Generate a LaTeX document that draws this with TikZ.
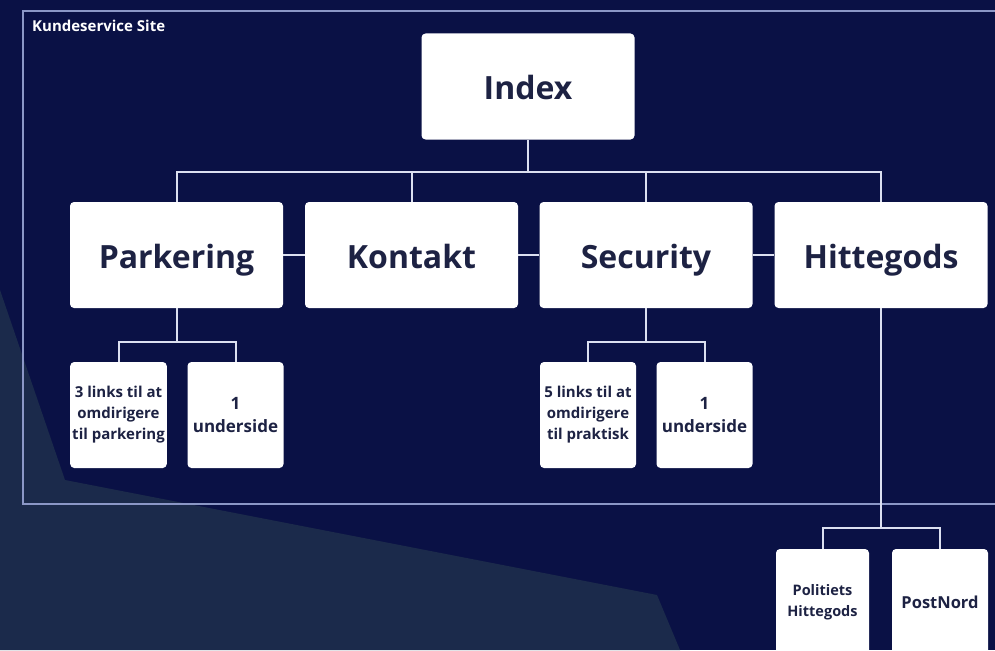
\documentclass[tikz,border=0pt]{standalone}
\usepackage{fontspec}
\setmainfont{Open Sans}
\definecolor{navybg}{HTML}{0A1145}
\definecolor{navylight}{HTML}{1B2A4B}
\definecolor{framecol}{HTML}{8B97C6}
\definecolor{linkcol}{HTML}{DCE0F0}
\definecolor{boxtext}{HTML}{1D2243}

\begin{document}
\begin{tikzpicture}[x=1pt, y=-1pt,
    page/.style={rectangle, rounded corners=4pt, fill=white, text=boxtext,
        align=center, inner sep=2pt, font=\bfseries\fontsize{32}{38}\selectfont,
        text height=29pt, text depth=3pt,
        minimum width=213pt, minimum height=106pt},
    subpage/.style={rectangle, rounded corners=4pt, fill=white, text=boxtext,
        align=center, inner sep=2pt, font=\bfseries\fontsize{15}{21}\selectfont,
        minimum width=96pt, minimum height=106pt},
    link/.style={draw=linkcol, line width=2pt}]
    % background
    \useasboundingbox (0,0) rectangle (995,650);
    \clip (0,0) rectangle (995,650);
    \fill[navybg] (0,0) rectangle (995,650);
    \fill[navylight] (0,290) -- (65,480) -- (657,595) -- (680,650) -- (0,650) -- cycle;

    % site frame
    \draw[framecol, line width=2.5pt] (1010,11) -- (23,11) -- (23,504) -- (1010,504);
    \node[anchor=north west, text=white, inner sep=0pt,
        font=\bfseries\fontsize{15}{18}\selectfont] (site) at (32,20) {Kundeservice Site};

    % top level
    \node[page] (index) at (528,86.5) {Index};
    \node[page] (parkering) at (176.5,255) {Parkering};
    \node[page] (kontakt) at (411.5,255) {Kontakt};
    \node[page] (security) at (646,255) {Security};
    \node[page] (hittegods) at (881,255) {Hittegods};

    \coordinate (bar) at (528,172);
    \draw[link] (index.south) -- (bar);
    \foreach \n in {parkering,kontakt,security,hittegods}
        \draw[link] (bar) -| (\n.north);
    \draw[link] (parkering.east) -- (kontakt.west);
    \draw[link] (kontakt.east) -- (security.west);
    \draw[link] (security.east) -- (hittegods.west);

    % Parkering
    \node[subpage] (plinks) at (118.5,415) {3 links til at\\omdirigere\\til parkering};
    \node[subpage, font=\bfseries\fontsize{17}{23}\selectfont] (pside) at (235.5,415) {1\\underside};
    \draw[link] (parkering.south) -- ++(0,34) coordinate (pbar);
    \draw[link] (pbar) -| (plinks.north);
    \draw[link] (pbar) -| (pside.north);

    % Security
    \node[subpage] (slinks) at (588,415) {5 links til at\\omdirigere\\til praktisk};
    \node[subpage, font=\bfseries\fontsize{17}{23}\selectfont] (sside) at (704.5,415) {1\\underside};
    \draw[link] (security.south) -- ++(0,34) coordinate (sbar);
    \draw[link] (sbar) -| (slinks.north);
    \draw[link] (sbar) -| (sside.north);

    % Hittegods
    \node[subpage, minimum width=93pt, font=\bfseries\fontsize{14.5}{21}\selectfont] (politi) at (822.5,602) {Politiets\\Hittegods};
    \node[subpage, font=\bfseries\fontsize{16.5}{21}\selectfont] (postnord) at (940,602) {PostNord};
    \draw[link] (hittegods.south) -- ++(0,220) coordinate (hbar);
    \draw[link] (hbar) -| (politi.north);
    \draw[link] (hbar) -| (postnord.north);
\end{tikzpicture}
\end{document}
